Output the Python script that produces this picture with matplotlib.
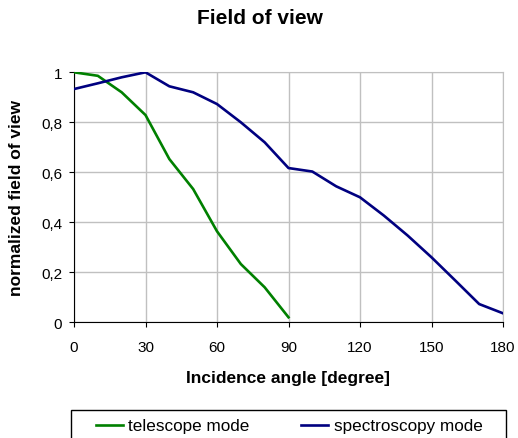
import matplotlib
matplotlib.use('Agg')
import matplotlib.pyplot as plt
from matplotlib.patches import Rectangle
from matplotlib.ticker import FuncFormatter

plt.rcParams['font.family'] = ['Liberation Sans', 'DejaVu Sans']

# angles in degree, normalized field of view
angle_tel = [0, 10, 20, 30, 40, 50, 60, 70, 80, 90]
fov_tel = [1.0, 0.986, 0.92, 0.829, 0.653, 0.533, 0.364, 0.233, 0.14, 0.02]

angle_spec = [0, 10, 20, 30, 40, 50, 60, 70, 80, 90, 100, 110, 120,
              130, 140, 150, 160, 170, 180]
fov_spec = [0.933, 0.956, 0.98, 1.0, 0.944, 0.92, 0.873, 0.80, 0.72, 0.617,
            0.603, 0.544, 0.50, 0.427, 0.347, 0.26, 0.167, 0.073, 0.036]

xticks = [0, 30, 60, 90, 120, 150, 180]
yticks = [0, 0.2, 0.4, 0.6, 0.8, 1.0]

W, H = 518, 439
fig = plt.figure(figsize=(W / 100, H / 100), dpi=100)
fig.patch.set_facecolor('white')

ax = fig.add_axes([74 / W, 1 - 323.3 / H, (503 - 74) / W, (323.3 - 73.3) / H])

ax.plot(angle_tel, fov_tel, color='#008000', lw=1.9, label='telescope mode',
        solid_joinstyle='round', zorder=3)
ax.plot(angle_spec, fov_spec, color='#000080', lw=1.9, label='spectroscopy mode',
        solid_joinstyle='round', zorder=3)

ax.set_xlim(0, 180)
ax.set_ylim(0, 1)
ax.set_xticks(xticks)
ax.set_yticks(yticks)
ax.yaxis.set_major_formatter(FuncFormatter(lambda v, p: ('%g' % v).replace('.', ',')))
ax.grid(True, color='#c0c0c0', lw=1.0)
ax.set_axisbelow(True)

ax.spines['top'].set_color('#c0c0c0')
ax.spines['right'].set_color('#c0c0c0')
ax.spines['left'].set_color('black')
ax.spines['bottom'].set_color('black')
ax.tick_params(direction='out', length=3.5, width=0.8, color='black',
               labelsize=11)
ax.tick_params(axis='x', pad=9)
ax.tick_params(axis='y', pad=5)

fig.text(260 / W, 1 - 18 / H, 'Field of view', ha='center', va='center',
         fontsize=15, fontweight='bold')
fig.text(288 / W, 1 - 379 / H, 'Incidence angle [degree]', ha='center', va='center',
         fontsize=12.5, fontweight='bold')
fig.text(17 / W, 1 - 198 / H, 'normalized field of view', ha='center', va='center',
         rotation=90, fontsize=12.5, fontweight='bold')

# legend box runs off the bottom edge, like the original
fig.patches.append(Rectangle((71 / W, 1 - 460 / H), (506 - 71) / W, (460 - 410.7) / H,
                             transform=fig.transFigure, facecolor='none',
                             edgecolor='black', lw=1.0))
fig.legend(loc='center left', bbox_to_anchor=(96 / W, 1 - 427 / H), ncol=2,
           frameon=False, fontsize=12.3, borderpad=0, borderaxespad=0,
           handlelength=1.6, handletextpad=0.3, columnspacing=3.0)

fig.savefig('out.png', dpi=100)
